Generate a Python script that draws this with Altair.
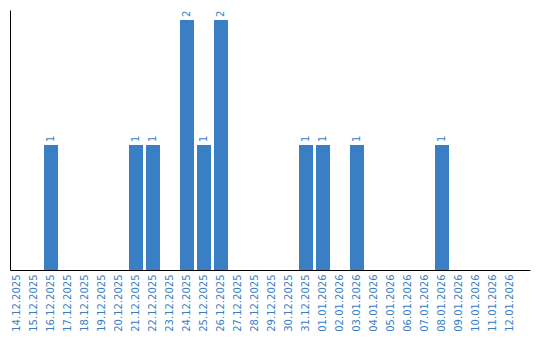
import altair as alt
import pandas as pd

dates = ["14.12.2025", "15.12.2025", "16.12.2025", "17.12.2025", "18.12.2025",
         "19.12.2025", "20.12.2025", "21.12.2025", "22.12.2025", "23.12.2025",
         "24.12.2025", "25.12.2025", "26.12.2025", "27.12.2025", "28.12.2025",
         "29.12.2025", "30.12.2025", "31.12.2025", "01.01.2026", "02.01.2026",
         "03.01.2026", "04.01.2026", "05.01.2026", "06.01.2026", "07.01.2026",
         "08.01.2026", "09.01.2026", "10.01.2026", "11.01.2026", "12.01.2026"]
counts = [0, 0, 1, 0, 0, 0, 0, 1, 1, 0,
          2, 1, 2, 0, 0, 0, 0, 1, 1, 0,
          1, 0, 0, 0, 0, 1, 0, 0, 0, 0]

BLUE = "#3a7ec3"
df = pd.DataFrame({"date": dates, "count": counts})

x = alt.X("date:N", sort=dates, title=None,
          scale=alt.Scale(paddingInner=0.176, paddingOuter=0.382, align=0),
          axis=alt.Axis(labelAngle=-90, labelColor=BLUE, labelFont="DejaVu Sans",
                        labelFontSize=10, ticks=False, domainColor="black",
                        labelPadding=4, labelOverlap=False))
y = alt.Y("count:Q", title=None, scale=alt.Scale(domain=[0, 2.08], nice=False),
          axis=alt.Axis(labels=False, ticks=False, grid=False, domainColor="black"))

bars = alt.Chart(df).mark_bar(color=BLUE).encode(x=x, y=y)
text = alt.Chart(df).transform_filter("datum.count > 0").mark_text(
    angle=270, align="left", baseline="middle", dx=3, color=BLUE,
    font="DejaVu Sans", fontSize=10
).encode(x=alt.X("date:N", sort=dates), y="count:Q", text="count:Q")

chart = (bars + text).properties(
    width=520, height=260,
    background="white",
    autosize=alt.AutoSizeParams(type="none"),
    padding={"left": 10, "top": 10, "right": 10, "bottom": 70},
).configure_view(stroke=None)

chart.save("out.html", embed_options={"renderer": "svg", "actions": False})
